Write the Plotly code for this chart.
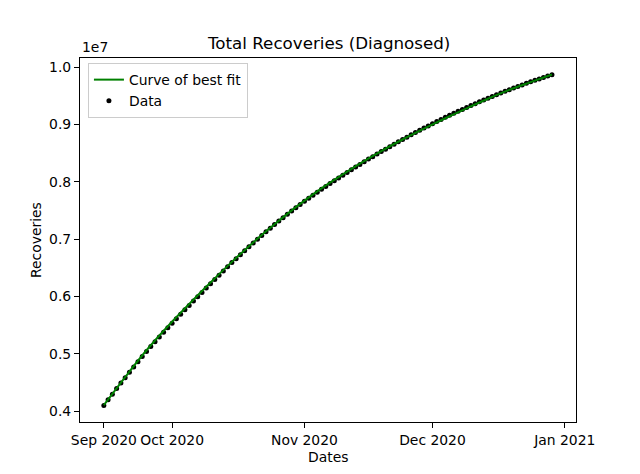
import pandas as pd
import plotly.graph_objects as go

# ---- data (recoveries) ----
start_date = "2020-09-15"
recoveries = [
    4100000, 4199000, 4297000, 4394000, 4490000, 4585000, 4679000, 4772000, 4864000, 4955000,
    5043000, 5129000, 5213000, 5296000, 5377000, 5457000, 5536000, 5614000, 5691000, 5768000,
    5844000, 5920000, 5996000, 6072000, 6148000, 6223000, 6298000, 6372000, 6445000, 6517000,
    6591000, 6660000, 6730000, 6799000, 6867000, 6934000, 7000000, 7065000, 7129000, 7192000,
    7254000, 7315000, 7375000, 7434000, 7492000, 7546000, 7605000, 7660000, 7714000, 7767000,
    7819000, 7870000, 7920000, 7969000, 8018000, 8067000, 8115000, 8163000, 8210000, 8257000,
    8303000, 8349000, 8397000, 8439000, 8483000, 8527000, 8570000, 8613000, 8655000, 8697000,
    8738000, 8779000, 8819000, 8859000, 8898000, 8937000, 8975000, 9013000, 9050000, 9087000,
    9126000, 9159000, 9194000, 9229000, 9263000, 9297000, 9330000, 9363000, 9395000, 9427000,
    9458000, 9489000, 9519000, 9549000, 9578000, 9607000, 9635000, 9663000, 9690000, 9717000,
    9743000, 9769000, 9794000, 9819000, 9843000, 9867000,
]
# curve of best fit, sampled every 5 days
fit_values = [
    4105000, 4595000, 5063000, 5482000, 5869000, 6243000, 6604000, 6944000, 7259000, 7559000,
    7834000, 8082000, 8318000, 8537000, 8738000, 8927000, 9108000, 9282000, 9448000, 9602000,
    9738000, 9872000,
]
x_tick_dates = ["2020-09-15", "2020-10-01", "2020-11-01", "2020-12-01", "2021-01-01"]
x_tick_labels = ["Sep 2020", "Oct 2020", "Nov 2020", "Dec 2020", "Jan 2021"]
y_tick_vals = [4000000, 5000000, 6000000, 7000000, 8000000, 9000000, 10000000]
y_tick_labels = ["0.4", "0.5", "0.6", "0.7", "0.8", "0.9", "1.0"]

dates = pd.date_range(start_date, periods=len(recoveries), freq="D")
fit_dates = dates[::5]

FONT = "DejaVu Sans"
fig = go.Figure()
fig.add_trace(go.Scatter(
    x=dates, y=recoveries, mode="markers", name="Data",
    marker=dict(color="black", size=5, line=dict(width=0)), legendrank=2,
))
fig.add_trace(go.Scatter(
    x=fit_dates, y=fit_values, mode="lines", name="Curve of best fit",
    line=dict(color="green", width=2, shape="spline"), legendrank=1,
))

axis_common = dict(
    showline=True, linecolor="black", linewidth=1.1, mirror=True,
    ticks="outside", ticklen=5, tickwidth=1.1, tickcolor="black",
    showgrid=False, zeroline=False,
    tickfont=dict(family=FONT, size=13.9, color="black"),
)
fig.update_xaxes(
    type="date", range=["2020-09-09 10:00", "2021-01-03 15:00"],
    tickmode="array", tickvals=x_tick_dates, ticktext=x_tick_labels,
    **axis_common,
)
fig.update_yaxes(
    range=[3812000, 10159000], tickmode="array",
    tickvals=y_tick_vals, ticktext=y_tick_labels,
    **axis_common,
)

# the page body adds an 8px margin, so the figure is 8px smaller and shifted
fig.update_layout(
    width=632, height=466,
    margin=dict(l=72, r=64, t=50, b=52),
    plot_bgcolor="white", paper_bgcolor="white",
    font=dict(family=FONT, size=13.9, color="black"),
    showlegend=True,
    legend=dict(
        x=0.016, y=0.986, xanchor="left", yanchor="top",
        bgcolor="rgba(255,255,255,0.8)", bordercolor="#cccccc", borderwidth=1,
        font=dict(family=FONT, size=13.9, color="black"),
        itemwidth=30, tracegroupgap=0,
    ),
    annotations=[
        dict(text="Total Recoveries (Diagnosed)", x=0.5, y=1, xref="paper", yref="paper",
             xanchor="center", yanchor="bottom", yshift=3, showarrow=False,
             font=dict(family=FONT, size=16.7, color="black")),
        dict(text="1e7", x=0, y=1, xref="paper", yref="paper",
             xanchor="left", yanchor="bottom", yshift=1, showarrow=False,
             font=dict(family=FONT, size=13.9, color="black")),
        dict(text="Dates", x=0.5, y=0, xref="paper", yref="paper",
             xanchor="center", yanchor="top", yshift=-25, showarrow=False,
             font=dict(family=FONT, size=13.9, color="black")),
        dict(text="Recoveries", x=0, y=0.5, xref="paper", yref="paper",
             xanchor="center", yanchor="middle", xshift=-44, textangle=-90, showarrow=False,
             font=dict(family=FONT, size=13.9, color="black")),
    ],
)

fig.write_html("out.html")
